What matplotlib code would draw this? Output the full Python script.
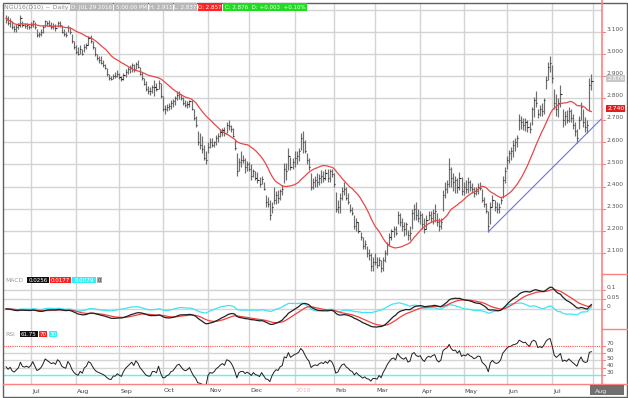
import numpy as np
import pandas as pd
import matplotlib
matplotlib.use("Agg")
import matplotlib.pyplot as plt
import matplotlib.transforms as mtransforms
from matplotlib.patches import Rectangle
from matplotlib.lines import Line2D

# ---------------- data ----------------
start_date = "2015-06-15"
end_date = "2016-07-29"
holidays = ["2015-07-03", "2015-09-07", "2015-11-26", "2015-12-25", "2016-01-01",
            "2016-01-18", "2016-02-15", "2016-03-25", "2016-05-30", "2016-07-04"]

close = [
    3.16, 3.14, 3.15, 3.12, 3.11, 3.12, 3.13, 3.16, 3.13, 3.125,
    3.13, 3.12, 3.13, 3.15, 3.12, 3.085, 3.09, 3.10, 3.12, 3.15,
    3.14, 3.13, 3.12, 3.125, 3.115, 3.14, 3.13, 3.10, 3.09, 3.085,
    3.12, 3.10, 3.06, 3.03, 3.01, 3.00, 3.02, 3.00, 3.03, 3.04,
    3.07, 3.06, 3.03, 3.00, 2.98, 2.97, 2.96, 2.95, 2.935, 2.91,
    2.89, 2.885, 2.90, 2.90, 2.91, 2.895, 2.885, 2.905, 2.92, 2.93,
    2.94, 2.95, 2.93, 2.955, 2.94, 2.91, 2.89, 2.865, 2.84, 2.83,
    2.83, 2.85, 2.85, 2.84, 2.87, 2.81, 2.75, 2.75, 2.76, 2.765,
    2.78, 2.785, 2.80, 2.815, 2.82, 2.80, 2.78, 2.77, 2.775, 2.785,
    2.75, 2.71, 2.68, 2.60, 2.59, 2.57, 2.53, 2.52, 2.58, 2.60,
    2.59, 2.60, 2.62, 2.63, 2.645, 2.655, 2.64, 2.68, 2.675, 2.66,
    2.63, 2.575, 2.47, 2.51, 2.52, 2.52, 2.49, 2.50, 2.48, 2.45,
    2.47, 2.44, 2.43, 2.41, 2.435, 2.39, 2.33, 2.32, 2.27, 2.31,
    2.34, 2.36, 2.35, 2.38, 2.39, 2.48, 2.47, 2.54, 2.49, 2.51,
    2.53, 2.54, 2.56, 2.62, 2.60, 2.56, 2.52, 2.49, 2.40, 2.42,
    2.43, 2.42, 2.44, 2.45, 2.44, 2.46, 2.44, 2.47, 2.455, 2.41,
    2.30, 2.31, 2.35, 2.38, 2.39, 2.35, 2.33, 2.295, 2.28, 2.22,
    2.24, 2.20, 2.17, 2.13, 2.14, 2.10, 2.09, 2.04, 2.06, 2.06,
    2.045, 2.07, 2.03, 2.07, 2.10, 2.14, 2.17, 2.20, 2.21, 2.19,
    2.27, 2.24, 2.22, 2.21, 2.23, 2.18, 2.19, 2.28, 2.30, 2.27,
    2.26, 2.27, 2.23, 2.21, 2.25, 2.27, 2.26, 2.28, 2.29, 2.24,
    2.22, 2.24, 2.36, 2.39, 2.41, 2.48, 2.44, 2.42, 2.43, 2.40,
    2.44, 2.38, 2.40, 2.39, 2.42, 2.40, 2.39, 2.37, 2.38, 2.40,
    2.395, 2.34, 2.32, 2.29, 2.22, 2.31, 2.34, 2.31, 2.30, 2.31,
    2.34, 2.43, 2.47, 2.52, 2.55, 2.56, 2.59, 2.60, 2.62, 2.70,
    2.69, 2.68, 2.69, 2.67, 2.66, 2.75, 2.79, 2.78, 2.73, 2.75,
    2.74, 2.79, 2.88, 2.94, 2.96, 2.89, 2.78, 2.75, 2.78, 2.82,
    2.70, 2.72, 2.70, 2.74, 2.71, 2.68, 2.65, 2.62, 2.70, 2.76,
    2.69, 2.67, 2.68, 2.86, 2.876,
]
high = [
    3.175, 3.17, 3.16, 3.15, 3.13, 3.135, 3.14, 3.175, 3.15, 3.14,
    3.14, 3.13, 3.145, 3.155, 3.145, 3.11, 3.10, 3.11, 3.13, 3.155,
    3.15, 3.155, 3.145, 3.14, 3.135, 3.15, 3.15, 3.13, 3.11, 3.10,
    3.13, 3.12, 3.09, 3.06, 3.04, 3.03, 3.04, 3.02, 3.045, 3.05,
    3.08, 3.085, 3.06, 3.03, 3.00, 2.99, 2.99, 2.97, 2.955, 2.935,
    2.91, 2.90, 2.91, 2.92, 2.925, 2.915, 2.90, 2.915, 2.93, 2.94,
    2.95, 2.96, 2.955, 2.965, 2.97, 2.94, 2.92, 2.89, 2.875, 2.855,
    2.85, 2.86, 2.88, 2.87, 2.88, 2.87, 2.81, 2.77, 2.775, 2.78,
    2.79, 2.795, 2.81, 2.83, 2.83, 2.82, 2.805, 2.79, 2.785, 2.79,
    2.79, 2.75, 2.72, 2.65, 2.64, 2.63, 2.59, 2.56, 2.60, 2.62,
    2.62, 2.605, 2.635, 2.64, 2.66, 2.665, 2.67, 2.69, 2.70, 2.68,
    2.665, 2.61, 2.55, 2.53, 2.56, 2.545, 2.53, 2.515, 2.51, 2.50,
    2.48, 2.47, 2.465, 2.445, 2.45, 2.42, 2.36, 2.355, 2.34, 2.33,
    2.40, 2.38, 2.385, 2.39, 2.405, 2.505, 2.505, 2.575, 2.535, 2.53,
    2.56, 2.56, 2.575, 2.64, 2.65, 2.61, 2.55, 2.53, 2.46, 2.44,
    2.45, 2.46, 2.455, 2.475, 2.47, 2.48, 2.48, 2.48, 2.48, 2.46,
    2.375, 2.34, 2.37, 2.40, 2.42, 2.40, 2.37, 2.32, 2.31, 2.27,
    2.26, 2.24, 2.196, 2.17, 2.16, 2.13, 2.12, 2.10, 2.08, 2.10,
    2.08, 2.083, 2.07, 2.08, 2.115, 2.15, 2.19, 2.21, 2.22, 2.22,
    2.29, 2.28, 2.26, 2.24, 2.24, 2.205, 2.22, 2.30, 2.32, 2.33,
    2.30, 2.29, 2.28, 2.26, 2.27, 2.29, 2.29, 2.30, 2.32, 2.28,
    2.26, 2.26, 2.385, 2.42, 2.43, 2.53, 2.49, 2.46, 2.45, 2.44,
    2.467, 2.445, 2.42, 2.43, 2.445, 2.43, 2.415, 2.40, 2.40, 2.415,
    2.42, 2.39, 2.355, 2.325, 2.29, 2.33, 2.36, 2.34, 2.33, 2.325,
    2.355, 2.45, 2.49, 2.54, 2.565, 2.58, 2.61, 2.62, 2.635, 2.73,
    2.72, 2.71, 2.71, 2.70, 2.69, 2.76, 2.806, 2.83, 2.75, 2.77,
    2.78, 2.80, 2.90, 2.965, 2.99, 2.95, 2.84, 2.82, 2.80, 2.86,
    2.75, 2.74, 2.746, 2.76, 2.75, 2.73, 2.69, 2.66, 2.72, 2.784,
    2.75, 2.716, 2.70, 2.89, 2.911,
]
low = [
    3.14, 3.13, 3.12, 3.11, 3.10, 3.10, 3.11, 3.12, 3.12, 3.115,
    3.11, 3.11, 3.115, 3.12, 3.11, 3.075, 3.075, 3.08, 3.095, 3.12,
    3.125, 3.125, 3.11, 3.11, 3.105, 3.12, 3.12, 3.095, 3.08, 3.075,
    3.10, 3.09, 3.05, 3.02, 3.00, 2.995, 3.00, 2.995, 3.01, 3.02,
    3.04, 3.05, 3.02, 2.99, 2.97, 2.96, 2.955, 2.94, 2.93, 2.90,
    2.88, 2.88, 2.885, 2.89, 2.895, 2.885, 2.875, 2.88, 2.895, 2.91,
    2.915, 2.92, 2.92, 2.93, 2.935, 2.905, 2.88, 2.86, 2.83, 2.82,
    2.815, 2.825, 2.81, 2.83, 2.84, 2.80, 2.74, 2.73, 2.74, 2.745,
    2.75, 2.76, 2.77, 2.79, 2.795, 2.79, 2.77, 2.76, 2.755, 2.76,
    2.745, 2.70, 2.67, 2.59, 2.57, 2.55, 2.52, 2.50, 2.55, 2.575,
    2.58, 2.58, 2.59, 2.60, 2.625, 2.63, 2.63, 2.64, 2.655, 2.645,
    2.625, 2.565, 2.45, 2.47, 2.49, 2.505, 2.46, 2.47, 2.47, 2.43,
    2.445, 2.43, 2.415, 2.40, 2.41, 2.385, 2.31, 2.31, 2.25, 2.28,
    2.32, 2.32, 2.325, 2.34, 2.36, 2.415, 2.43, 2.475, 2.475, 2.48,
    2.49, 2.50, 2.515, 2.565, 2.55, 2.55, 2.50, 2.475, 2.385, 2.39,
    2.40, 2.40, 2.405, 2.415, 2.42, 2.43, 2.42, 2.42, 2.445, 2.40,
    2.285, 2.28, 2.28, 2.34, 2.36, 2.34, 2.32, 2.285, 2.27, 2.21,
    2.20, 2.19, 2.16, 2.12, 2.12, 2.084, 2.07, 2.02, 2.02, 2.045,
    2.03, 2.04, 2.016, 2.02, 2.06, 2.09, 2.13, 2.16, 2.17, 2.18,
    2.23, 2.22, 2.20, 2.175, 2.18, 2.16, 2.16, 2.21, 2.25, 2.25,
    2.24, 2.23, 2.21, 2.19, 2.21, 2.25, 2.24, 2.23, 2.24, 2.22,
    2.20, 2.21, 2.29, 2.35, 2.37, 2.40, 2.40, 2.38, 2.37, 2.37,
    2.385, 2.36, 2.36, 2.37, 2.37, 2.38, 2.37, 2.355, 2.36, 2.365,
    2.385, 2.33, 2.31, 2.28, 2.196, 2.23, 2.31, 2.29, 2.28, 2.28,
    2.32, 2.35, 2.415, 2.48, 2.505, 2.52, 2.535, 2.56, 2.58, 2.656,
    2.66, 2.656, 2.65, 2.645, 2.64, 2.68, 2.716, 2.76, 2.71, 2.72,
    2.72, 2.73, 2.84, 2.88, 2.92, 2.87, 2.75, 2.72, 2.716, 2.76,
    2.67, 2.68, 2.686, 2.69, 2.69, 2.66, 2.63, 2.596, 2.66, 2.70,
    2.67, 2.648, 2.64, 2.74, 2.837,
]

ma_period = 20
macd_fast, macd_slow, macd_sig = 12, 26, 9
rsi_period = 14

# trend line anchors (bar index, price)
trend_p0 = (234, 2.196)
trend_p1 = (277, 2.596)

price_ticks = [3.1, 3.0, 2.9, 2.8, 2.7, 2.6, 2.5, 2.4, 2.3, 2.2, 2.1]
price_grid = [3.2] + price_ticks
macd_ticks = [0.1, 0.05, 0.0]
macd_tick_labels = ["0.1", "0.05", "0"]
rsi_ticks = [70, 60, 50, 40, 30]

header_title = "NGU16(D10) ~ Daily"
header_gray = ["D: JUL 29 2016", "5:00:00 PM", "H: 2.911", "L: 2.837"]
header_red = "O: 2.857"
header_green = "C: 2.876  D: +0.003  +0.10%"
last_close_label = "2.876"
last_ma_label = "2.740"
macd_vals = ["0.0256", "0.0177", "0.0079", "0"]
rsi_vals = ["61.75", "70", "30"]

# ---------------- computations ----------------
dates = pd.bdate_range(start_date, end_date)
dates = dates[~dates.isin(pd.to_datetime(holidays))]
n = len(close)
dates = dates[:n]
idx = np.arange(n)

c = pd.Series(close, dtype=float)
hi = np.array(high)
lo = np.array(low)
ma = c.rolling(ma_period, min_periods=1).mean()
ema_f = c.ewm(span=macd_fast, adjust=False).mean()
ema_s = c.ewm(span=macd_slow, adjust=False).mean()
macd = ema_f - ema_s
signal = macd.ewm(span=macd_sig, adjust=False).mean()
diff = macd - signal

# Wilder RSI, seeded with the average of the first rsi_period changes
chg = np.diff(np.array(close))
gains = np.clip(chg, 0, None)
losses = np.clip(-chg, 0, None)
ag = np.empty(n)
al = np.empty(n)
ag[0] = gains[:rsi_period].mean()
al[0] = losses[:rsi_period].mean()
for i in range(1, n):
    ag[i] = (ag[i - 1] * (rsi_period - 1) + gains[i - 1]) / rsi_period
    al[i] = (al[i - 1] * (rsi_period - 1) + losses[i - 1]) / rsi_period
rsi = 100 - 100 / (1 + ag / al)

# month starts
month_pos, month_lab = [], []
prev = None
for i, dt in enumerate(dates):
    key = (dt.year, dt.month)
    if key != prev:
        if i > 0:
            month_pos.append(i)
            month_lab.append(str(dt.year) if dt.month == 1 else dt.strftime("%b"))
        prev = key
last_month_pos = n
last_month_lab = (dates[-1] + pd.offsets.MonthBegin(1)).strftime("%b")

# ---------------- layout ----------------
W, H = 628, 398
fig = plt.figure(figsize=(W / 100, H / 100), dpi=100)
fig.patch.set_facecolor("white")

def fy(py):
    return 1 - py / H

XL, XR = 3.0, 602.3
xmin, xmax = -1.46, 289.3
ax_p = fig.add_axes([XL / W, fy(274), (XR - XL) / W, (274 - 2.5) / H])
ax_m = fig.add_axes([XL / W, fy(329), (XR - XL) / W, 55 / H])
ax_r = fig.add_axes([XL / W, fy(384), (XR - XL) / W, 55 / H])

GRID = "#d4d4d4"
RED = "#ff8080"
for ax in (ax_p, ax_m, ax_r):
    ax.set_xlim(xmin, xmax)
    for s in ax.spines.values():
        s.set_visible(False)
    ax.tick_params(left=False, bottom=False, right=False, top=False,
                   labelleft=False, labelbottom=False)
    ax.set_facecolor("white")
    for mp in month_pos + [last_month_pos]:
        ax.axvline(mp, color=GRID, lw=1.0, zorder=0)

ax_p.set_ylim(2.005, 3.232)
ax_m.set_ylim(-0.106, 0.183)
ax_r.set_ylim(17.6, 93.0)

for v in price_grid:
    ax_p.axhline(v, color=GRID, lw=1.0, zorder=0)
for v in macd_ticks:
    ax_m.axhline(v, color=GRID, lw=1.0, zorder=0)
for v in [60, 50, 40]:
    ax_r.axhline(v, color=GRID, lw=1.0, zorder=0)
ax_r.axhline(70, color="#ff5050", lw=0.8, ls=(0, (1, 1)), zorder=1)
ax_r.axhline(30, color="#60f0f8", lw=1.0, zorder=1)

# price bars
ax_p.vlines(idx, lo, hi, color="#6e6e6e", lw=0.85, zorder=3)
ax_p.hlines(c.values, idx, idx + 0.55, color="#2a2a2a", lw=0.8, zorder=3)
ax_p.plot(idx, ma.values, color="#e84848", lw=0.9, zorder=4)

# trend line
slope = (trend_p1[1] - trend_p0[1]) / (trend_p1[0] - trend_p0[0])
tx = np.array([trend_p0[0], xmax])
ax_p.plot(tx, trend_p0[1] + slope * (tx - trend_p0[0]), color="#7070e8", lw=0.8, zorder=4)

# MACD
ax_m.plot(idx, diff.values, color="#40e4f4", lw=0.9, zorder=3)
ax_m.plot(idx, signal.values, color="#f04040", lw=0.9, zorder=4)
ax_m.plot(idx, macd.values, color="#202020", lw=0.9, zorder=5)

# RSI
ax_r.plot(idx, rsi, color="#202020", lw=0.7, zorder=3)

# right labels
def right_labels(ax, vals, labels):
    tr = mtransforms.blended_transform_factory(ax.transAxes, ax.transData)
    off = mtransforms.offset_copy(tr, fig=fig, x=4.5, y=2.3, units="dots")
    for v, lab in zip(vals, labels):
        ax.text(1.0, v, lab, transform=off, ha="left", va="center",
                fontsize=4.3, color="#555555", clip_on=False)
        ax.plot([1.0, 1.0 + 2.5 / (XR - XL)], [v, v], transform=tr,
                color=RED, lw=0.8, clip_on=False)

right_labels(ax_p, price_ticks, ["%.3f" % v for v in price_ticks])
right_labels(ax_m, macd_ticks, macd_tick_labels)
right_labels(ax_r, rsi_ticks, [str(v) for v in rsi_ticks])

# value flags on right axis
def flag(ax, v, text, fc, tc):
    tr = mtransforms.blended_transform_factory(ax.transAxes, ax.transData)
    off = mtransforms.offset_copy(tr, fig=fig, x=5, y=2.8, units="dots")
    ax.text(1.0, v, text, transform=off, ha="left", va="center", fontsize=4.3,
            color=tc, clip_on=False,
            bbox=dict(boxstyle="square,pad=0.15", fc=fc, ec="none"))

flag(ax_p, close[-1], last_close_label, "#c8c8c8", "white")
flag(ax_p, float(ma.values[-1]), last_ma_label, "#e02020", "white")

# frame lines (figure pixel coords)
def fline(x0, y0, x1, y1, **kw):
    fig.add_artist(Line2D([x0 / W, x1 / W], [fy(y0), fy(y1)],
                          transform=fig.transFigure, **kw))

def fbox(x0, y0, x1, y1, fc, text=None, tc="white", fs=4.0):
    fig.add_artist(Rectangle((x0 / W, fy(y1)), (x1 - x0) / W, (y1 - y0) / H,
                             transform=fig.transFigure, fc=fc, ec="none", zorder=2))
    if text is not None:
        fig.text((x0 + x1) / 2 / W, fy((y0 + y1) / 2), text, ha="center",
                 va="center_baseline", color=tc, fontsize=fs, zorder=5)

fline(XR, 0, XR, 384, color=RED, lw=1.2)
fline(XR, 274, W, 274, color=RED, lw=1.0)
fline(XR, 329, W, 329, color=RED, lw=1.0)
fline(XL, 384, W, 384, color=RED, lw=1.0)
fig.add_artist(Rectangle((2.5 / W, fy(396.5)), 624.5 / W, 394 / H,
                         transform=fig.transFigure, fc="none", ec="#606060", lw=1.0))

# header
fig.text(4.5 / W, fy(7.3), header_title, ha="left", va="center_baseline",
         fontsize=4.5, color="#8a8a8a")
gx = [(70, 113), (114, 148), (149, 173), (174, 197)]
for (x0, x1), t in zip(gx, header_gray):
    fbox(x0, 3.5, x1, 10.5, "#b8b8b8", t, "white")
fbox(198, 3.5, 222, 10.5, "#ff2424", header_red, "white")
fbox(223, 3.5, 307, 10.5, "#20dc20", header_green, "white")

# panel legends
fig.text(5 / W, fy(279.5), "MACD", ha="left", va="center_baseline", fontsize=4.3, color="#9a9a9a")
fbox(27, 276.5, 49, 282.5, "#101010", macd_vals[0], "white")
fbox(50, 276.5, 71, 282.5, "#ff2020", macd_vals[1], "white")
fbox(72, 276.5, 96, 282.5, "#30f0f8", macd_vals[2], "white")
fbox(97, 276.5, 102, 282.5, "#b0b0b0", macd_vals[3], "#303030")

fig.text(5 / W, fy(334), "RSI", ha="left", va="center_baseline", fontsize=4.3, color="#9a9a9a")
fbox(20, 331, 38, 337, "#101010", rsi_vals[0], "white")
fbox(39, 331, 47, 337, "#ff2020", rsi_vals[1], "white")
fbox(49, 331, 57, 337, "#30f0f8", rsi_vals[2], "white")

# month labels
lab_tr = mtransforms.blended_transform_factory(ax_r.transData, fig.transFigure)
lab_off = mtransforms.offset_copy(lab_tr, fig=fig, x=1.2, y=0, units="dots")
for mp, ml in zip(month_pos, month_lab):
    col = "#ffb0b0" if ml.isdigit() else "#404040"
    ax_r.text(mp, fy(390.5), ml, transform=lab_off, ha="left", va="center_baseline",
              fontsize=4.5, color=col, clip_on=False)
fbox(590, 384.8, 624, 395, "#707070")
fig.text(0, fy(390.5), last_month_lab, transform=lab_off, ha="left",
         va="center_baseline", fontsize=4.5, color="#e8e8e8", zorder=6)
fig.texts[-1].set_x(last_month_pos)

fig.savefig("out.png", dpi=100, facecolor="white")
